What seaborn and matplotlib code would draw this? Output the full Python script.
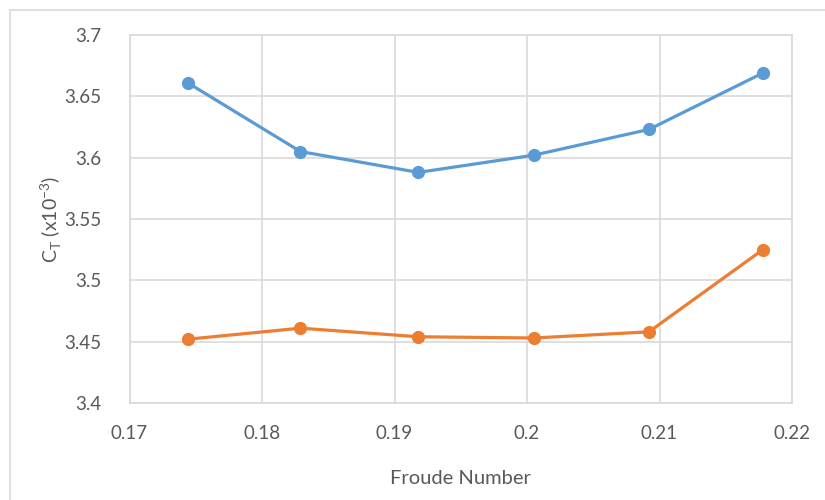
import matplotlib
matplotlib.use("Agg")
import matplotlib.pyplot as plt
import seaborn as sns
import pandas as pd
from matplotlib.lines import Line2D

froude = [0.1744, 0.1829, 0.1918, 0.2005, 0.2092, 0.2178]
series_a = [3.661, 3.605, 3.588, 3.602, 3.623, 3.669]
series_b = [3.452, 3.461, 3.454, 3.453, 3.458, 3.525]
x_ticks = [0.17, 0.18, 0.19, 0.2, 0.21, 0.22]
x_tick_labels = ["0.17", "0.18", "0.19", "0.2", "0.21", "0.22"]
y_ticks = [3.4, 3.45, 3.5, 3.55, 3.6, 3.65, 3.7]
y_tick_labels = ["3.4", "3.45", "3.5", "3.55", "3.6", "3.65", "3.7"]

df = pd.DataFrame({
    "Froude": froude * 2,
    "CT": series_a + series_b,
    "series": ["A"] * len(froude) + ["B"] * len(froude),
})

sns.set_theme(style="white")
plt.rcParams["font.family"] = ["Lato", "DejaVu Sans"]
plt.rcParams["mathtext.fontset"] = "custom"
plt.rcParams["mathtext.rm"] = "Lato"

fig = plt.figure(figsize=(8.25, 5), dpi=100)
ax = fig.add_axes([129.5 / 825, 97 / 500, (792 - 129.5) / 825, (403 - 35) / 500])

palette = {"A": "#5B9BD5", "B": "#ED7D31"}
sns.lineplot(data=df, x="Froude", y="CT", hue="series", palette=palette,
             marker="o", markersize=9.5, markeredgewidth=0, linewidth=2.3,
             legend=False, ax=ax, zorder=3)

ax.set_xlim(0.17, 0.22)
ax.set_ylim(3.4, 3.7)
ax.set_xticks(x_ticks)
ax.set_xticklabels(x_tick_labels)
ax.set_yticks(y_ticks)
ax.set_yticklabels(y_tick_labels)
ax.grid(True, color="#D9D9D9", linewidth=1.2)
ax.set_axisbelow(True)
for s in ax.spines.values():
    s.set_color("#D9D9D9")
    s.set_linewidth(1.2)
ax.tick_params(axis="both", length=0, labelsize=13.5, colors="#595959")
ax.tick_params(axis="y", pad=20)
ax.tick_params(axis="x", pad=16)

ax.set_xlabel("Froude Number", fontsize=14.5, color="#595959", labelpad=20)
ax.set_ylabel(r"C$_\mathregular{T}$ (x10$^{\mathregular{-3}}$)", fontsize=14,
              color="#595959", labelpad=0)

# outer chart frame
fig.add_artist(Line2D([10 / 825, 1.0], [490 / 500, 490 / 500], transform=fig.transFigure,
                      color="#D9D9D9", linewidth=1.2))
fig.add_artist(Line2D([10 / 825, 10 / 825], [0.0, 490 / 500], transform=fig.transFigure,
                      color="#D9D9D9", linewidth=1.2))

fig.savefig("out.png", dpi=100)
